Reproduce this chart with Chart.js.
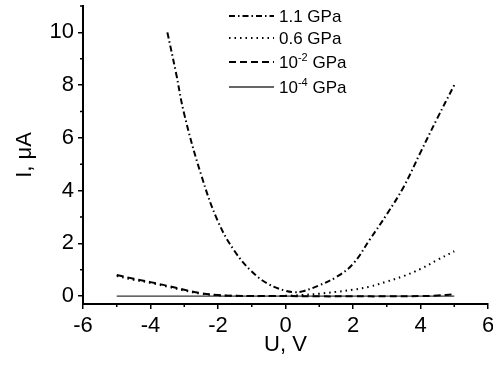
<!DOCTYPE html>
<html><head><meta charset="utf-8">
<script src="https://cdn.jsdelivr.net/npm/chart.js@4/dist/chart.umd.min.js"></script>
<style>html,body{margin:0;padding:0;background:#fff}#wrap{width:493px;height:366px;position:relative}</style>
</head><body><div id="wrap"><canvas id="c"></canvas></div>
<script>
// ---- data ----
const seriesNames = ['1.1 GPa', '0.6 GPa', '10^-2 GPa', '10^-4 GPa'];

const u11 = [-3.5, -3.25, -3.0, -2.5, -2.0, -1.5, -1.0, -0.5, 0, 0.25, 0.5, 1.0, 1.5, 2.0, 2.5, 3.0, 3.5, 4.0, 4.5, 5.0];
const i11 = [10.0, 8.5, 6.9, 4.6, 2.83, 1.69, 0.93, 0.45, 0.2, 0.15, 0.18, 0.41, 0.72, 1.22, 2.15, 3.1, 4.14, 5.45, 6.75, 8.0];

const u06 = [-5, -4.5, -4, -3.5, -3, -2.5, -2, -1.5, -1, -0.5, 0, 0.5, 1, 1.5, 2, 2.5, 3, 3.5, 4, 4.5, 5];
const i06 = [0.76, 0.62, 0.5, 0.36, 0.21, 0.09, 0.03, 0.01, 0.0, 0.0, 0.01, 0.04, 0.09, 0.16, 0.24, 0.36, 0.55, 0.76, 1.03, 1.37, 1.7];

const u2 = [-5, -4.5, -4, -3.5, -3, -2.5, -2, -1.5, -1, -0.5, 0, 1, 2, 3, 4, 4.5, 5];
const i2 = [0.8, 0.66, 0.53, 0.39, 0.24, 0.11, 0.04, 0.01, 0.0, 0.0, 0.0, -0.01, -0.01, -0.01, 0.0, 0.02, 0.07];

const u4 = [-5, -4, -3, -2, -1, 0, 1, 2, 3, 4, 5];
const i4 = [0, 0, 0, 0, 0, 0, 0, 0, 0, 0, 0];

const xTicks = [-6, -4, -2, 0, 2, 4, 6];
const xMinor = [-5, -3, -1, 1, 3, 5];
const yTicks = [0, 2, 4, 6, 8, 10];
const yMinor = [1, 3, 5, 7, 9, 11];

// ---- styles ----
const styles = [
  {color: '#000', width: 2, dash: [6, 3, 1.5, 3]},
  {color: '#000', width: 2, dash: [1.5, 4]},
  {color: '#000', width: 2, dash: [7, 4]},
  {color: '#333', width: 1.3, dash: []}
];
const pairs = (xs, ys) => xs.map((x, k) => ({x: x, y: ys[k]}));
const seriesData = [pairs(u11, i11), pairs(u06, i06), pairs(u2, i2), pairs(u4, i4)];

const FONT = '"Liberation Sans", Arial, sans-serif';

const minorTicks = {
  id: 'minorTicks',
  afterDraw(chart) {
    const ctx = chart.ctx, xs = chart.scales.x, ys = chart.scales.y;
    ctx.save();
    ctx.strokeStyle = '#000';
    ctx.lineWidth = 1.5;
    xMinor.forEach(v => {
      const p = xs.getPixelForValue(v);
      ctx.beginPath(); ctx.moveTo(p, xs.top); ctx.lineTo(p, xs.top + 3); ctx.stroke();
    });
    yMinor.forEach(v => {
      const p = ys.getPixelForValue(v);
      ctx.beginPath(); ctx.moveTo(ys.right, p); ctx.lineTo(ys.right - 3, p); ctx.stroke();
    });
    ctx.restore();
  }
};

const legendBox = {
  id: 'legendBox',
  afterDraw(chart) {
    const ctx = chart.ctx;
    const x0 = 229, x1 = 274, tx = 279;
    const rowsY = [16, 38, 62, 87];
    ctx.save();
    seriesNames.forEach((name, k) => {
      const st = styles[k], y = rowsY[k];
      ctx.strokeStyle = st.color; ctx.lineWidth = st.width; ctx.setLineDash(st.dash);
      ctx.beginPath(); ctx.moveTo(x0, y); ctx.lineTo(x1, y); ctx.stroke();
      ctx.setLineDash([]);
      ctx.fillStyle = '#000';
      ctx.textBaseline = 'alphabetic';
      const base = y + 6;
      const m = name.match(/^(.*?)\^(\S+)(.*)$/);
      let x = tx;
      if (m) {
        ctx.font = '17px ' + FONT;
        ctx.fillText(m[1], x, base); x += ctx.measureText(m[1]).width;
        ctx.font = '11px ' + FONT;
        ctx.fillText(m[2], x, base - 7); x += ctx.measureText(m[2]).width;
        ctx.font = '17px ' + FONT;
        ctx.fillText(m[3], x, base);
      } else {
        ctx.font = '17px ' + FONT;
        ctx.fillText(name, x, base);
      }
    });
    ctx.restore();
  }
};

new Chart(document.getElementById('c'), {
  type: 'scatter',
  data: {
    datasets: seriesData.map((d, k) => ({
      label: seriesNames[k],
      data: d,
      showLine: true,
      borderColor: styles[k].color,
      borderWidth: styles[k].width,
      borderDash: styles[k].dash,
      pointRadius: 0,
      fill: false,
      tension: 0.4
    }))
  },
  options: {
    responsive: true,
    maintainAspectRatio: false,
    animation: false,
    layout: {padding: {top: 6, right: 5, left: 0, bottom: 0}},
    plugins: {legend: {display: false}, tooltip: {enabled: false}},
    scales: {
      x: {
        type: 'linear', min: -6, max: 6,
        afterBuildTicks: s => { s.ticks = xTicks.map(v => ({value: v})); },
        afterFit: s => { s.height = 62; s.paddingLeft = 0; s.paddingRight = 0; },
        grid: {drawOnChartArea: false, drawTicks: true, tickLength: 5, color: '#000', lineWidth: 1.5},
        border: {display: true, color: '#000', width: 2},
        ticks: {color: '#000', font: {family: FONT, size: 22}, padding: 4, maxRotation: 0},
        title: {display: true, text: 'U, V', color: '#000', font: {family: FONT, size: 22}, padding: {top: 0, bottom: 8}}
      },
      y: {
        type: 'linear', min: -0.3, max: 11,
        afterBuildTicks: s => { s.ticks = yTicks.map(v => ({value: v})); },
        afterFit: s => { s.width = 83; s.paddingTop = 0; s.paddingBottom = 0; },
        grid: {drawOnChartArea: false, drawTicks: true, tickLength: 5, color: '#000', lineWidth: 1.5},
        border: {display: true, color: '#000', width: 2},
        ticks: {color: '#000', font: {family: FONT, size: 22}, padding: 4},
        title: {display: true, text: 'I, μA', color: '#000', font: {family: FONT, size: 22}, padding: {top: 12, bottom: 0}}
      }
    }
  },
  plugins: [minorTicks, legendBox]
});
</script>
</body></html>
